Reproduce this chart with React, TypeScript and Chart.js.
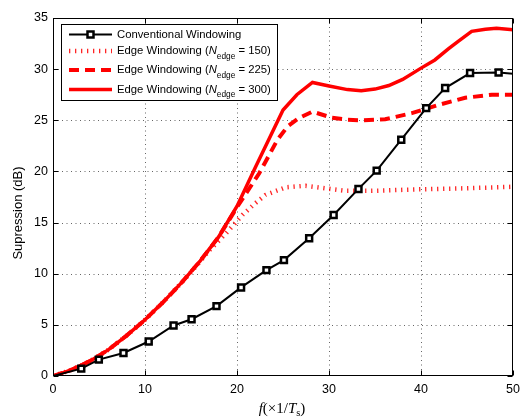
import React, { useEffect, useRef } from "react";
import { Chart, registerables } from "chart.js";

Chart.register(...registerables);

const X_TICKS = [0, 10, 20, 30, 40, 50];
const Y_TICKS = [0, 5, 10, 15, 20, 25, 30, 35];

const CONV_X = [0, 3.07, 4.98, 7.66, 10.4, 13.1, 15.06, 17.77, 20.44, 23.2, 25.1, 27.84, 30.5, 33.2, 35.18, 37.85, 40.56, 42.62, 45.33, 48.43, 50];
const CONV_Y = [0, 0.72, 1.6, 2.25, 3.37, 4.94, 5.55, 6.83, 8.66, 10.35, 11.33, 13.46, 15.74, 18.29, 20.08, 23.1, 26.19, 28.15, 29.62, 29.68, 29.55];

const E150_X = [0, 2, 4, 6, 8, 10, 12, 14, 16, 17, 18, 18.8, 20.6, 22, 23.1, 25.3, 27.45, 29.6, 31.8, 34.7, 39.7, 44.8, 50];
const E150_Y = [0, 0.6, 1.45, 2.55, 3.95, 5.5, 7.25, 9.15, 11.2, 12.3, 13.2, 13.95, 15.75, 16.9, 17.7, 18.45, 18.6, 18.35, 18.1, 18.1, 18.25, 18.35, 18.5];

const E225_X = [0, 2, 4, 6, 8, 10, 12, 14, 16, 18, 20, 22.4, 24.4, 25.5, 26.7, 28.2, 30.3, 32, 33.6, 36.1, 39, 41.9, 44.8, 47.7, 50];
const E225_Y = [0, 0.6, 1.45, 2.55, 3.95, 5.5, 7.25, 9.15, 11.25, 13.6, 16.5, 19.8, 23.1, 24.4, 25.2, 25.85, 25.25, 25.05, 25.0, 25.1, 25.7, 26.5, 27.2, 27.5, 27.5];

const E300_X = [0, 2, 4, 6, 8, 10, 12, 14, 16, 18, 20, 22, 25, 26.5, 28.2, 30, 32, 33.5, 35, 36.5, 38, 40, 41.5, 43, 44, 45.5, 47, 48.2, 50];
const E300_Y = [0, 0.6, 1.45, 2.55, 3.95, 5.5, 7.25, 9.15, 11.25, 13.6, 16.6, 20.4, 26.0, 27.5, 28.7, 28.35, 28.0, 27.9, 28.05, 28.4, 29.0, 30.1, 30.9, 32.0, 32.7, 33.7, 33.9, 34.0, 33.85];

const LEGEND_CONV = "Conventional Windowing";
const LEGEND_EDGE_PREFIX = "Edge Windowing (";
const LEGEND_N = "N";
const LEGEND_SUB = "edge";
const LEGEND_VALUES = ["150", "225", "300"];
const Y_TITLE = "Supression (dB)";

const SANS = '"Liberation Sans", Arial, sans-serif';
const SERIF = '"Liberation Serif", "Times New Roman", serif';

const toPts = (xs: number[], ys: number[]) => xs.map((x, i) => ({ x, y: ys[i] }));

const STYLES = [
  { color: "#000000", width: 2, dash: [] as number[] },
  { color: "rgba(255,0,0,0.85)", width: 4.5, dash: [1.3, 4.7] },
  { color: "#ff0000", width: 4, dash: [10, 6] },
  { color: "#ff0000", width: 3.5, dash: [] as number[] },
];

const drawPlugin = {
  id: "matlabDecor",
  beforeDatasetsDraw(chart: any) {
    const ctx = chart.ctx;
    const { left, right, top, bottom } = chart.chartArea;
    const xs = chart.scales.x;
    const ys = chart.scales.y;
    ctx.save();
    ctx.strokeStyle = "rgba(0,0,0,0.6)";
    ctx.lineWidth = 1;
    ctx.setLineDash([1, 3.5]);
    X_TICKS.forEach((v) => {
      if (v <= 0 || v >= 50) return;
      const x = Math.round(xs.getPixelForValue(v)) + 0.5;
      ctx.beginPath();
      ctx.moveTo(x, top);
      ctx.lineTo(x, bottom);
      ctx.stroke();
    });
    Y_TICKS.forEach((v) => {
      if (v <= 0 || v >= 35) return;
      const y = Math.round(ys.getPixelForValue(v)) + 0.5;
      ctx.beginPath();
      ctx.moveTo(left, y);
      ctx.lineTo(right, y);
      ctx.stroke();
    });
    ctx.restore();
  },
  afterDatasetsDraw(chart: any) {
    const ctx = chart.ctx;
    const { left, right, top, bottom } = chart.chartArea;
    const xs = chart.scales.x;
    const ys = chart.scales.y;
    ctx.save();
    ctx.setLineDash([]);
    ctx.strokeStyle = "#000";
    ctx.lineWidth = 1;
    const L = Math.round(left) + 0.5;
    const R = Math.round(right) - 0.5;
    const T = Math.round(top) + 0.5;
    const B = Math.round(bottom) - 0.5;
    ctx.strokeRect(L, T, R - L, B - T);
    const tl = 5;
    ctx.beginPath();
    X_TICKS.forEach((v) => {
      const x = Math.round(xs.getPixelForValue(v)) + 0.5;
      ctx.moveTo(x, B);
      ctx.lineTo(x, B - tl);
      ctx.moveTo(x, T);
      ctx.lineTo(x, T + tl);
    });
    Y_TICKS.forEach((v) => {
      const y = Math.round(ys.getPixelForValue(v)) + 0.5;
      ctx.moveTo(L, y);
      ctx.lineTo(L + tl, y);
      ctx.moveTo(R, y);
      ctx.lineTo(R - tl, y);
    });
    ctx.stroke();

    // Legend
    const bx = 61.5, by = 24.5, bw = 216, bh = 76;
    ctx.fillStyle = "#fff";
    ctx.fillRect(bx, by, bw, bh);
    ctx.strokeStyle = "#000";
    ctx.lineWidth = 1;
    ctx.strokeRect(bx, by, bw, bh);
    const rows = [34.5, 51, 70, 89.5];
    const sx0 = 69, sx1 = 112, tx = 117;
    rows.forEach((ry, i) => {
      const st = STYLES[i];
      ctx.save();
      ctx.strokeStyle = st.color;
      ctx.lineWidth = st.width;
      ctx.setLineDash(st.dash);
      ctx.beginPath();
      ctx.moveTo(sx0, ry);
      ctx.lineTo(sx1, ry);
      ctx.stroke();
      ctx.restore();
      if (i === 0) {
        ctx.save();
        ctx.fillStyle = "#fff";
        ctx.strokeStyle = "#000";
        ctx.lineWidth = 2.5;
        ctx.fillRect(90.5 - 3, ry - 3, 6, 6);
        ctx.strokeRect(90.5 - 3, ry - 3, 6, 6);
        ctx.restore();
      }
      ctx.fillStyle = "#000";
      ctx.textBaseline = "middle";
      ctx.textAlign = "left";
      if (i === 0) {
        ctx.font = `11.3px ${SANS}`;
        ctx.fillText(LEGEND_CONV, tx, ry);
      } else {
        let x = tx;
        ctx.font = `11.3px ${SANS}`;
        ctx.fillText(LEGEND_EDGE_PREFIX, x, ry);
        x += ctx.measureText(LEGEND_EDGE_PREFIX).width;
        ctx.font = `italic 11.3px ${SANS}`;
        ctx.fillText(LEGEND_N, x, ry);
        x += ctx.measureText(LEGEND_N).width;
        ctx.font = `8.3px ${SANS}`;
        ctx.fillText(LEGEND_SUB, x, ry + 5.5);
        x += ctx.measureText(LEGEND_SUB).width;
        ctx.font = `11.3px ${SANS}`;
        ctx.fillText(" = " + LEGEND_VALUES[i - 1] + ")", x, ry);
      }
    });

    // Y title
    ctx.save();
    ctx.translate(18, 213);
    ctx.rotate(-Math.PI / 2);
    ctx.font = `13px ${SANS}`;
    ctx.fillStyle = "#000";
    ctx.textAlign = "center";
    ctx.textBaseline = "middle";
    ctx.fillText(Y_TITLE, 0, 0);
    ctx.restore();

    // X title: f(×1/T_s)
    const parts = [
      { t: "f", f: `italic 15px ${SERIF}`, dy: 0 },
      { t: "(\u00d71/", f: `15px ${SERIF}`, dy: 0 },
      { t: "T", f: `italic 15px ${SERIF}`, dy: 0 },
      { t: "s", f: `10.5px ${SERIF}`, dy: 3 },
      { t: ")", f: `15px ${SERIF}`, dy: 0 },
    ];
    let total = 0;
    parts.forEach((p) => {
      ctx.font = p.f;
      total += ctx.measureText(p.t).width;
    });
    let x = 282 - total / 2;
    const base = 413;
    ctx.textAlign = "left";
    ctx.textBaseline = "alphabetic";
    parts.forEach((p) => {
      ctx.font = p.f;
      ctx.fillText(p.t, x, base + p.dy);
      x += ctx.measureText(p.t).width;
    });
    ctx.restore();
  },
};

export default function App() {
  const ref = useRef<HTMLCanvasElement | null>(null);
  useEffect(() => {
    document.body.style.margin = "0";
    if (!ref.current) return;
    const last = CONV_X.length - 1;
    const chart = new Chart(ref.current, {
      type: "line",
      data: {
        datasets: [
          {
            label: LEGEND_CONV,
            data: toPts(CONV_X, CONV_Y),
            borderColor: STYLES[0].color,
            borderWidth: STYLES[0].width,
            pointStyle: "rect",
            pointRadius: (c: any) => (c.dataIndex === 0 || c.dataIndex === last ? 0 : 4.2),
            pointBorderWidth: 2.5,
            pointBorderColor: "#000",
            pointBackgroundColor: "#fff",
            tension: 0,
          },
          {
            label: "150",
            data: toPts(E150_X, E150_Y),
            borderColor: STYLES[1].color,
            borderWidth: STYLES[1].width,
            borderDash: STYLES[1].dash,
            pointRadius: 0,
            tension: 0,
          },
          {
            label: "225",
            data: toPts(E225_X, E225_Y),
            borderColor: STYLES[2].color,
            borderWidth: STYLES[2].width,
            borderDash: STYLES[2].dash,
            pointRadius: 0,
            tension: 0,
          },
          {
            label: "300",
            data: toPts(E300_X, E300_Y),
            borderColor: STYLES[3].color,
            borderWidth: STYLES[3].width,
            pointRadius: 0,
            tension: 0,
          },
        ],
      },
      options: {
        responsive: false,
        animation: false,
        devicePixelRatio: 1,
        layout: { padding: { top: 18, right: 11, left: 0, bottom: 0 } },
        plugins: { legend: { display: false }, tooltip: { enabled: false } },
        scales: {
          x: {
            type: "linear",
            min: 0,
            max: 50,
            afterBuildTicks: (s: any) => {
              s.ticks = X_TICKS.map((v) => ({ value: v }));
            },
            afterFit: (s: any) => {
              s.height = 43;
            },
            grid: { display: false, drawTicks: false },
            border: { display: false },
            ticks: { font: { family: SANS, size: 12.5 }, color: "#000", padding: 6, maxRotation: 0 },
          },
          y: {
            type: "linear",
            min: 0,
            max: 35,
            afterBuildTicks: (s: any) => {
              s.ticks = Y_TICKS.map((v) => ({ value: v }));
            },
            afterFit: (s: any) => {
              s.width = 53;
            },
            grid: { display: false, drawTicks: false },
            border: { display: false },
            ticks: { font: { family: SANS, size: 12.5 }, color: "#000", padding: 5 },
          },
        },
      },
      plugins: [drawPlugin],
    } as any);
    return () => chart.destroy();
  }, []);
  return (
    <div style={{ width: 526, height: 419 }}>
      <canvas ref={ref} width={526} height={419} style={{ display: "block" }} />
    </div>
  );
}
